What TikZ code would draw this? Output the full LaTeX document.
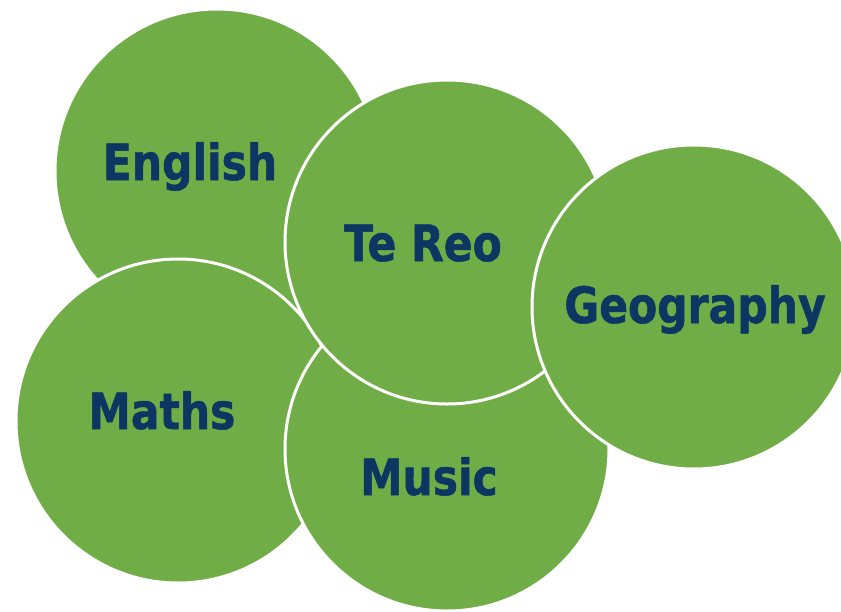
\documentclass[tikz,border=0pt]{standalone}
\usepackage{fontspec}
\newfontfamily\subjfont{DejaVu Sans}[FakeStretch=0.85, FakeBold=1]
\definecolor{leafgreen}{RGB}{112,173,71}
\definecolor{inkblue}{RGB}{13,54,98}

\begin{document}
\begin{tikzpicture}[x=1pt, y=-1pt,
    subject/.style={circle, fill=leafgreen, draw=white, line width=3pt,
      minimum size=324pt, inner sep=0pt},
    subjtext/.style={anchor=base, text=inkblue, inner sep=0pt,
      font=\subjfont\bfseries\fontsize{50}{60}\selectfont}]
          	 \useasboundingbox (0,0) rectangle (841,611);
          	 \clip (0,0) rectangle (841,611);

          	 \node[subject] (english) at (217,171) {};
          	 \node[subjtext] (englishlabel) at (190,180) {English};

          	 \node[subject] (maths) at (178,421) {};
          	 \node[subjtext] (mathslabel) at (162,429) {Maths};

          	 \node[subject] (music) at (447,449) {};
          	 \node[subjtext] (musiclabel) at (429,495) {Music};

          	 \node[subject] (tereo) at (447,242) {};
          	 \node[subjtext] (tereolabel) at (423,261) {Te Reo};

          	 \node[subject] (geography) at (694,307) {};
          	 \node[subjtext] (geographylabel) at (695,323) {Geography};
        \end{tikzpicture}
\end{document}
